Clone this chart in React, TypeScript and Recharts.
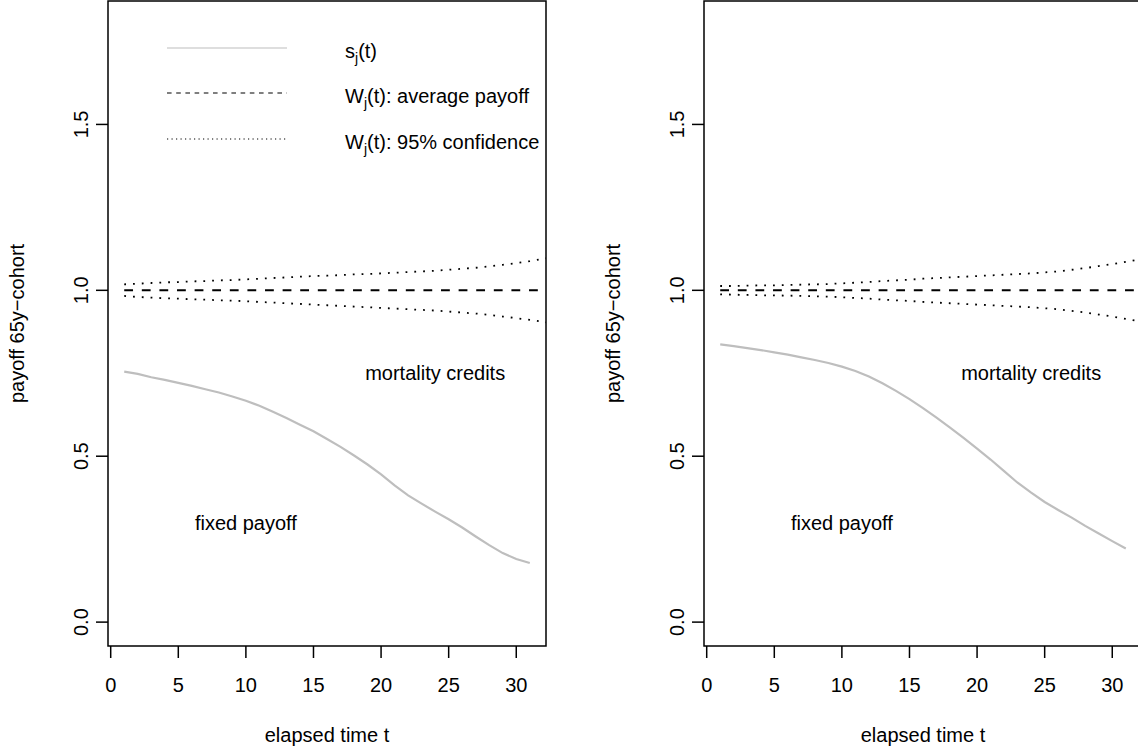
import { LineChart, Line, XAxis, YAxis, ReferenceArea, ReferenceDot } from 'recharts';

const FONT = '"Liberation Sans", Arial, Helvetica, sans-serif';

// elapsed time t
const times = [1, 2, 3, 4, 5, 6, 7, 8, 9, 10, 11, 12, 13, 14, 15, 16, 17, 18, 19, 20, 21, 22, 23, 24, 25, 26, 27, 28, 29, 30, 31, 32, 33];

// left panel
const leftFixed = [0.755, 0.748, 0.738, 0.730, 0.721, 0.712, 0.702, 0.692, 0.680, 0.667, 0.652, 0.634, 0.615, 0.595, 0.575, 0.552, 0.528, 0.502, 0.475, 0.445, 0.412, 0.382, 0.357, 0.333, 0.310, 0.285, 0.258, 0.232, 0.208, 0.190, 0.178];
const leftAverage = [1, 1, 1, 1, 1, 1, 1, 1, 1, 1, 1, 1, 1, 1, 1, 1, 1, 1, 1, 1, 1, 1, 1, 1, 1, 1, 1, 1, 1, 1, 1, 1, 1];
const leftUpper = [1.018, 1.020, 1.022, 1.024, 1.025, 1.027, 1.028, 1.030, 1.031, 1.033, 1.035, 1.037, 1.039, 1.041, 1.043, 1.044, 1.046, 1.048, 1.049, 1.051, 1.053, 1.055, 1.057, 1.059, 1.062, 1.065, 1.068, 1.072, 1.077, 1.082, 1.088, 1.095, 1.102];
const leftLower = [0.983, 0.980, 0.978, 0.976, 0.975, 0.973, 0.972, 0.970, 0.969, 0.967, 0.965, 0.963, 0.961, 0.959, 0.957, 0.955, 0.953, 0.951, 0.949, 0.947, 0.945, 0.943, 0.941, 0.939, 0.936, 0.933, 0.930, 0.926, 0.921, 0.916, 0.911, 0.905, 0.898];

// right panel
const rightFixed = [0.837, 0.832, 0.826, 0.820, 0.813, 0.806, 0.798, 0.790, 0.781, 0.770, 0.757, 0.740, 0.720, 0.697, 0.672, 0.645, 0.616, 0.586, 0.555, 0.523, 0.490, 0.455, 0.420, 0.390, 0.362, 0.338, 0.315, 0.290, 0.267, 0.244, 0.222];
const rightAverage = [1, 1, 1, 1, 1, 1, 1, 1, 1, 1, 1, 1, 1, 1, 1, 1, 1, 1, 1, 1, 1, 1, 1, 1, 1, 1, 1, 1, 1, 1, 1, 1, 1];
const rightUpper = [1.013, 1.013, 1.014, 1.015, 1.015, 1.016, 1.017, 1.018, 1.019, 1.021, 1.023, 1.025, 1.028, 1.030, 1.032, 1.035, 1.037, 1.039, 1.041, 1.043, 1.045, 1.047, 1.049, 1.051, 1.054, 1.057, 1.062, 1.067, 1.073, 1.079, 1.086, 1.093, 1.100];
const rightLower = [0.988, 0.987, 0.986, 0.985, 0.985, 0.984, 0.983, 0.982, 0.981, 0.979, 0.977, 0.975, 0.972, 0.970, 0.968, 0.965, 0.963, 0.961, 0.959, 0.957, 0.955, 0.953, 0.951, 0.949, 0.946, 0.943, 0.938, 0.933, 0.927, 0.921, 0.914, 0.907, 0.900];

const xTicks = [0, 5, 10, 15, 20, 25, 30];
const yTicks = [0, 0.5, 1, 1.5];
const X_DOMAIN = [-0.2, 32.2];
const Y_DOMAIN = [-0.072, 1.872];

function buildRows(fixed: number[], avg: number[], hi: number[], lo: number[]) {
  return times.map((t, i) => ({
    t,
    s: i < fixed.length ? fixed[i] : null,
    avg: avg[i],
    hi: hi[i],
    lo: lo[i],
  }));
}

const leftData = buildRows(leftFixed, leftAverage, leftUpper, leftLower);
const rightData = buildRows(rightFixed, rightAverage, rightUpper, rightLower);

function YTick(props: any) {
  const { x, y, payload } = props;
  return (
    <text
      x={x}
      y={y}
      transform={`rotate(-90 ${x} ${y})`}
      textAnchor="middle"
      fill="#000"
      fontSize={20}
      fontFamily={FONT}
    >
      {Number(payload.value).toFixed(1)}
    </text>
  );
}

function Legend() {
  return (
    <g fontFamily={FONT} fontSize={20} fill="#000">
      <line x1={167} x2={287} y1={48} y2={48} stroke="#bebebe" strokeWidth={1.2} />
      <line x1={167} x2={287} y1={93} y2={93} stroke="#000" strokeWidth={1.2} strokeDasharray="4.6 4.6" />
      <line x1={167} x2={287} y1={139} y2={139} stroke="#000" strokeWidth={1.2} strokeDasharray="1.2 3.3" />
      <text x={345} y={58}>
        s<tspan fontSize={14} dy={5}>j</tspan>
        <tspan dy={-5}>(t)</tspan>
      </text>
      <text x={345} y={103}>
        W<tspan fontSize={14} dy={5}>j</tspan>
        <tspan dy={-5}>(t): average payoff</tspan>
      </text>
      <text x={345} y={149}>
        W<tspan fontSize={14} dy={5}>j</tspan>
        <tspan dy={-5}>(t): 95% confidence</tspan>
      </text>
    </g>
  );
}

function Panel({ data, left, showLegend }: { data: any[]; left: number; showLegend: boolean }) {
  const textLabel = (value: string) => ({ value, position: 'center' as const, fill: '#000', fontSize: 20, fontFamily: FONT });
  return (
    <div style={{ position: 'absolute', left, top: 0, width: 560, height: 751 }}>
      <LineChart width={560} height={751} data={data} margin={{ top: 1, right: 14, bottom: 45, left: 48 }}>
        <XAxis
          dataKey="t"
          type="number"
          domain={X_DOMAIN}
          ticks={xTicks}
          interval={0}
          allowDataOverflow
          height={60}
          tickSize={12}
          tickMargin={20}
          axisLine={false}
          tickLine={{ stroke: '#000', strokeWidth: 1.5 }}
          tick={{ fill: '#000', fontSize: 20, fontFamily: FONT }}
        />
        <YAxis
          type="number"
          domain={Y_DOMAIN}
          ticks={yTicks}
          interval={0}
          allowDataOverflow
          width={60}
          tickSize={12}
          tickMargin={8}
          axisLine={false}
          tickLine={{ stroke: '#000', strokeWidth: 1.5 }}
          tick={(p: any) => <YTick {...p} />}
        />
        <ReferenceArea x1={X_DOMAIN[0]} x2={X_DOMAIN[1]} y1={Y_DOMAIN[0]} y2={Y_DOMAIN[1]} fill="none" fillOpacity={0} stroke="#000" strokeWidth={1.5} />
        <Line dataKey="s" stroke="#bebebe" strokeWidth={2.2} dot={false} activeDot={false} isAnimationActive={false} />
        <Line dataKey="avg" stroke="#000" strokeWidth={2} strokeDasharray="8.8 8.8" dot={false} activeDot={false} isAnimationActive={false} />
        <Line dataKey="hi" stroke="#000" strokeWidth={1.8} strokeDasharray="1.8 7" dot={false} activeDot={false} isAnimationActive={false} />
        <Line dataKey="lo" stroke="#000" strokeWidth={1.8} strokeDasharray="1.8 7" dot={false} activeDot={false} isAnimationActive={false} />
        <ReferenceDot x={24} y={0.75} r={0} fill="none" stroke="none" label={textLabel('mortality credits')} />
        <ReferenceDot x={10} y={0.3} r={0} fill="none" stroke="none" label={textLabel('fixed payoff')} />
      </LineChart>
      <svg width={560} height={751} style={{ position: 'absolute', left: 0, top: 0, pointerEvents: 'none' }}>
        <text x={327} y={742} textAnchor="middle" fontFamily={FONT} fontSize={20} fill="#000">
          elapsed time t
        </text>
        <text x={24} y={323.5} transform="rotate(-90 24 323.5)" textAnchor="middle" fontFamily={FONT} fontSize={20} fill="#000">
          payoff 65y−cohort
        </text>
        {showLegend && <Legend />}
      </svg>
    </div>
  );
}

export default function App() {
  return (
    <div style={{ position: 'absolute', left: 0, top: 0, width: 1138, height: 751, overflow: 'hidden', background: '#fff' }}>
      <Panel data={leftData} left={0} showLegend />
      <Panel data={rightData} left={596} showLegend={false} />
    </div>
  );
}
